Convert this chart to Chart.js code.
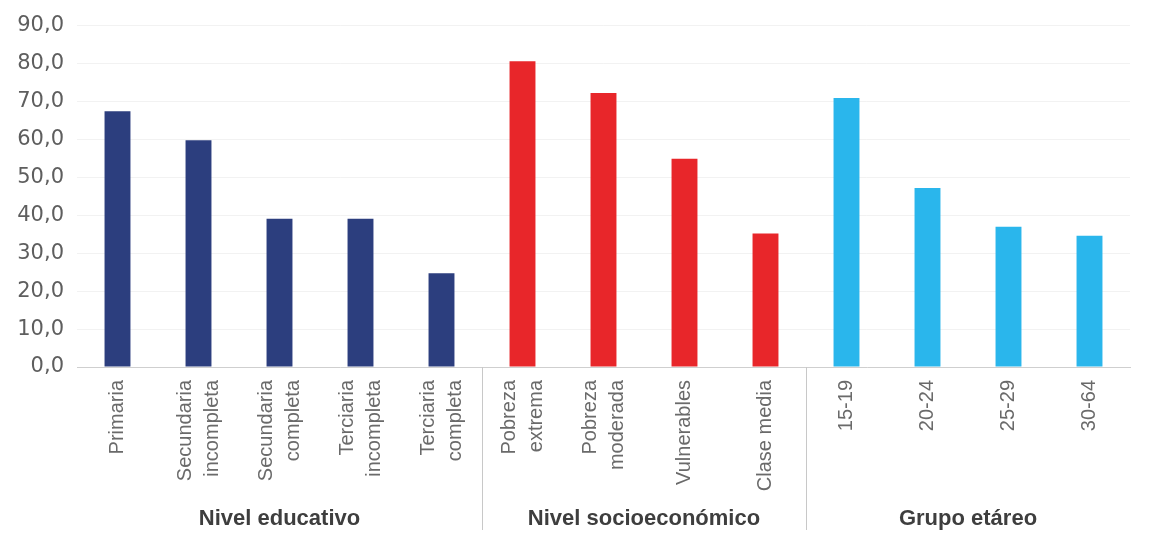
<!DOCTYPE html>
<html>
<head>
<meta charset="utf-8">
<script src="https://cdn.jsdelivr.net/npm/chart.js@4"></script>
<style>
  html, body { margin: 0; padding: 0; background: #ffffff; }
  #wrap { width: 1151px; height: 535px; position: relative; }
</style>
</head>
<body>
<div id="wrap"><canvas id="c" width="1151" height="535"></canvas></div>
<script>
// ---- Data ----
const categories = [
  ["Primaria"],
  ["Secundaria", "incompleta"],
  ["Secundaria", "completa"],
  ["Terciaria", "incompleta"],
  ["Terciaria", "completa"],
  ["Pobreza", "extrema"],
  ["Pobreza", "moderada"],
  ["Vulnerables"],
  ["Clase media"],
  ["15-19"],
  ["20-24"],
  ["25-29"],
  ["30-64"]
];
const values = [67.4, 59.8, 39.1, 39.1, 24.7, 80.6, 72.2, 54.9, 35.2, 70.9, 47.2, 37.0, 34.6];
const groupNames = ["Nivel educativo", "Nivel socioeconómico", "Grupo etáreo"];
const groupStart = [0, 5, 9];
const groupEnd = [4, 8, 12];
const groupColors = ["#2c3e7e", "#e8262a", "#2ab6ec"];
const yTicks = [0, 10, 20, 30, 40, 50, 60, 70, 80, 90];

const barColors = values.map((v, i) => {
  for (let g = 0; g < groupStart.length; g++) {
    if (i >= groupStart[g] && i <= groupEnd[g]) return groupColors[g];
  }
  return "#888";
});

const groupPlugin = {
  id: "groups",
  afterDraw(chart) {
    const ctx = chart.ctx;
    const x = chart.scales.x;
    const area = chart.chartArea;
    ctx.save();
    // rotated category labels, multi-line centred on each bar
    ctx.fillStyle = "#6a6a6a";
    ctx.font = "20px 'Liberation Sans', Arial, sans-serif";
    ctx.textAlign = "right";
    ctx.textBaseline = "middle";
    const lineGap = 27;
    categories.forEach((lines, i) => {
      const px = x.getPixelForValue(i);
      const n = lines.length;
      lines.forEach((t, j) => {
        const lx = px + (j - (n - 1) / 2) * lineGap;
        ctx.save();
        ctx.translate(lx, area.bottom + 13);
        ctx.rotate(-Math.PI / 2);
        ctx.fillText(t, 0, 0);
        ctx.restore();
      });
    });
    // separators
    ctx.strokeStyle = "#c8c8c8";
    ctx.lineWidth = 1;
    for (let g = 0; g < groupStart.length - 1; g++) {
      const px = Math.round((x.getPixelForValue(groupEnd[g]) + x.getPixelForValue(groupStart[g + 1])) / 2) + 0.5;
      ctx.beginPath();
      ctx.moveTo(px, area.bottom);
      ctx.lineTo(px, 530);
      ctx.stroke();
    }
    // group labels
    ctx.fillStyle = "#3e3e3e";
    ctx.font = "bold 22px 'Liberation Sans', Arial, sans-serif";
    ctx.textAlign = "center";
    ctx.textBaseline = "middle";
    for (let g = 0; g < groupNames.length; g++) {
      const cx = (x.getPixelForValue(groupStart[g]) + x.getPixelForValue(groupEnd[g])) / 2;
      ctx.fillText(groupNames[g], cx, 519);
    }
    ctx.restore();
  }
};

new Chart(document.getElementById("c"), {
  type: "bar",
  data: {
    labels: categories,
    datasets: [{
      data: values,
      backgroundColor: barColors,
      barPercentage: 0.32,
      categoryPercentage: 1.0
    }]
  },
  options: {
    responsive: false,
    animation: false,
    layout: { padding: { top: 24, right: 21, left: 0, bottom: 0 } },
    plugins: { legend: { display: false }, tooltip: { enabled: false } },
    scales: {
      x: {
        grid: { display: false, drawTicks: false },
        border: { display: true, color: "#cfcfcf", width: 1 },
        ticks: { display: false },
        afterFit(scale) { scale.height = 168; }
      },
      y: {
        min: 0,
        max: 90,
        afterBuildTicks(scale) { scale.ticks = yTicks.map(v => ({ value: v })); },
        grid: { color: "rgba(0,0,0,0.05)", drawTicks: false },
        border: { display: false },
        ticks: {
          padding: 13,
          color: "#5e5e5e",
          font: { family: "'DejaVu Sans', Verdana, sans-serif", size: 21 },
          callback: (v) => v.toFixed(1).replace(".", ",")
        },
        afterFit(scale) { scale.width = 77; }
      }
    }
  },
  plugins: [groupPlugin]
});
</script>
</body>
</html>
